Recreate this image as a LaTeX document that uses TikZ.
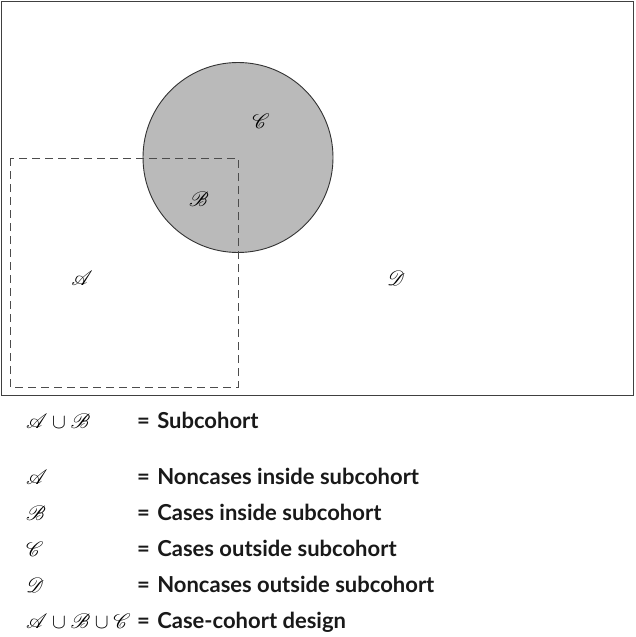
\documentclass[tikz,border=0pt]{standalone}
\usepackage{fontspec}
\setsansfont{Lato}
\usepackage{amssymb}
\IfFileExists{mathrsfs.sty}{\usepackage{mathrsfs}\let\mycal\mathscr}{\let\mycal\mathcal}
\begin{document}
\begin{tikzpicture}[x=1pt,y=-1pt,
  lbl/.style={inner sep=0pt, font=\fontsize{22}{26}\selectfont},
  leg/.style={inner sep=0pt, anchor=base west, font=\fontsize{22}{26}\selectfont\sffamily\bfseries, text=black!90},
  legm/.style={inner sep=0pt, anchor=base west, font=\fontsize{22}{26}\selectfont}]
\useasboundingbox (0,0) rectangle (636,637);
\fill[white] (0,0) rectangle (636,637);
\node[draw=black!75, line width=1pt, inner sep=0pt, minimum width=632pt, minimum height=394pt, anchor=north west] (frame) at (1,1) {};
\node[circle, draw=black!80, line width=0.9pt, fill=black!27, minimum size=190pt, inner sep=0pt] (circ) at (238,157.5) {};
\coordinate (tl) at (10,158);
\coordinate (br) at (238,387);
\draw[black!70, line width=1pt, dash pattern=on 8pt off 5pt] (tl) rectangle (br);
\node[lbl] (C) at (261,121) {$\mycal{C}$};
\node[lbl] (B) at (199,199) {$\mycal{B}$};
\node[lbl] (A) at (82,278) {$\mycal{A}$};
\node[lbl] (D) at (396,278) {$\mycal{D}$};
% legend
\node[legm] (m1) at (26,428) {$\mycal{A}\cup\mycal{B}$};
\node[leg] (t1) at (137,428) {=\,\,Subcohort};
\node[legm] (m2) at (26,484) {$\mycal{A}$};
\node[leg] (t2) at (137,484) {=\,\,Noncases inside subcohort};
\node[legm] (m3) at (26,520) {$\mycal{B}$};
\node[leg] (t3) at (137,520) {=\,\,Cases inside subcohort};
\node[legm] (m4) at (26,556) {$\mycal{C}$};
\node[leg] (t4) at (137,556) {=\,\,Cases outside subcohort};
\node[legm] (m5) at (26,592) {$\mycal{D}$};
\node[leg] (t5) at (137,592) {=\,\,Noncases outside subcohort};
\node[legm] (m6) at (26,628) {$\mycal{A}\cup\mycal{B}\cup\mycal{C}$};
\node[leg] (t6) at (137,628) {=\,\,Case-cohort design};
\end{tikzpicture}
\end{document}
